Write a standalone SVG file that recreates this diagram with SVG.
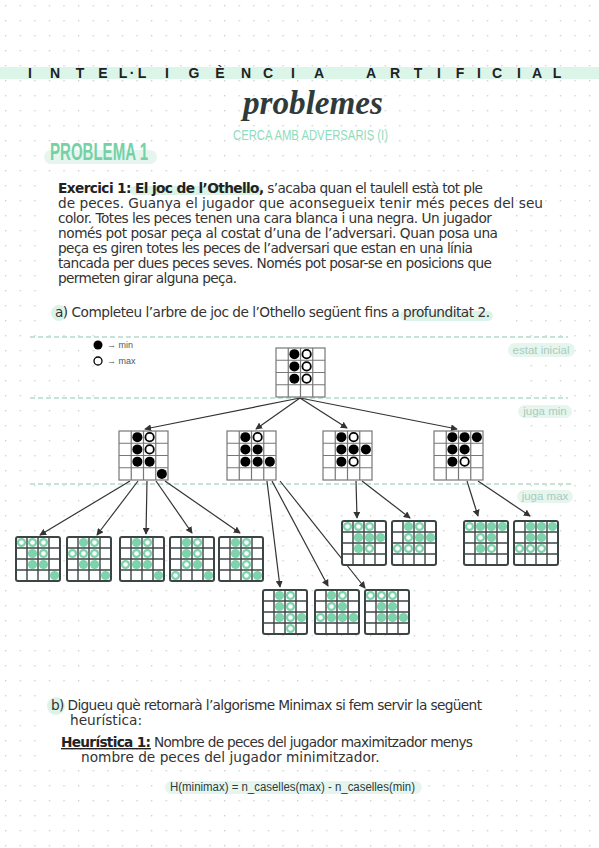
<svg xmlns="http://www.w3.org/2000/svg" xmlns:xlink="http://www.w3.org/1999/xlink" width="599" height="848" viewBox="0 0 599 848">
<style>
.body{font-family:"DejaVu Sans",sans-serif;font-size:13.7px;fill:#333}
.b{font-weight:bold;fill:#222}
.hdr{font-family:"Liberation Sans",sans-serif;font-weight:bold;font-size:14px;fill:#222}
.lbl{font-family:"Liberation Sans",sans-serif;font-size:11.5px;fill:#a9cbbd}
.pill{fill:#e6f6ef}
.hl{fill:#dcf4e8}
.dash{stroke:#b5dacb;stroke-width:1.5;stroke-dasharray:5 3;fill:none}
.con{stroke:#333;stroke-width:1.2;fill:none;marker-end:url(#ah)}
</style>
<defs>
<pattern id="dots" width="14.6" height="15" patternUnits="userSpaceOnUse" x="5" y="5">
<circle cx="0.7" cy="0.7" r="0.7" fill="#c4c4c4"/>
</pattern>
<marker id="ah" viewBox="0 0 8 8" refX="7" refY="4" markerWidth="7" markerHeight="7" markerUnits="userSpaceOnUse" orient="auto">
<path d="M0,0 L8,4 L0,8 z" fill="#333"/>
</marker>
<g id="bg">
<rect x="0" y="0" width="49" height="49" fill="#fff" stroke="#777" stroke-width="1.2"/>
<path d="M12.25,0V49M24.5,0V49M36.75,0V49M0,12.25H49M0,24.5H49M0,36.75H49" stroke="#777" stroke-width="1.2"/>
</g>
<g id="lg">
<rect x="0" y="0" width="44" height="44" rx="2" fill="#fff" stroke="#3c4545" stroke-width="2"/>
<path d="M11,0V44M22,0V44M33,0V44M0,11H44M0,22H44M0,33H44" stroke="#3c4545" stroke-width="1.4"/>
</g>
<circle id="bk" r="5" fill="#000"/>
<circle id="wh" r="4.2" fill="#fff" stroke="#000" stroke-width="1.8"/>
<circle id="gm" r="4.6" fill="#7dd3ac"/>
<g id="gw"><circle r="4.6" fill="#7dd3ac"/><circle r="2.3" fill="#fff"/></g>
</defs>

<rect width="599" height="848" fill="#fff"/>
<rect width="599" height="848" fill="url(#dots)"/>
<!-- white areas -->
<rect x="48" y="172" width="468" height="120" fill="#fff"/>
<rect x="48" y="298" width="468" height="28" fill="#fff"/>
<rect x="100" y="335" width="430" height="172" fill="#fff"/>
<rect x="45" y="694" width="470" height="72" fill="#fff"/>

<!-- header -->
<g id="header">
<rect x="0" y="67" width="599" height="12" fill="#dcf5e9"/>
<text class="hdr" text-anchor="middle" x="30 55 80 103 123 132 142 167 194 220 246 268 293 319 371 395 418 439 460 479 497 519 537 557" y="78">INTEL·LIGÈNCIAARTIFICIAL</text>
<text x="313" y="114" text-anchor="middle" font-family="Liberation Serif, serif" font-style="italic" font-weight="bold" font-size="34" fill="#2f3b3b" textLength="140" lengthAdjust="spacingAndGlyphs">problemes</text>
<text x="233" y="140" font-family="Liberation Sans, sans-serif" font-size="15.5" fill="#8fdcbd" textLength="155" lengthAdjust="spacingAndGlyphs">CERCA AMB ADVERSARIS (I)</text>
<rect x="44" y="150" width="113" height="14" rx="7" class="pill"/>
<text x="50" y="160" font-family="Liberation Sans, sans-serif" font-weight="bold" font-size="23" fill="#74d1a6" textLength="98" lengthAdjust="spacingAndGlyphs">PROBLEMA 1</text>
</g>

<!-- statement -->
<g id="statement">
<rect x="130" y="186" width="132" height="9" rx="4.5" class="hl"/>
<text class="body" x="58" y="193" textLength="425"><tspan class="b">Exercici 1: El joc de l’Othello,</tspan> s’acaba quan el taulell està tot ple</text>
<text class="body" x="58" y="208" textLength="485">de peces. Guanya el jugador que aconsegueix tenir més peces del seu</text>
<text class="body" x="58" y="223" textLength="434">color. Totes les peces tenen una cara blanca i una negra. Un jugador</text>
<text class="body" x="58" y="238" textLength="440">només pot posar peça al costat d’una de l’adversari. Quan posa una</text>
<text class="body" x="58" y="253" textLength="415">peça es giren totes les peces de l’adversari que estan en una línia</text>
<text class="body" x="58" y="268" textLength="434">tancada per dues peces seves. Només pot posar-se en posicions que</text>
<text class="body" x="58" y="283" textLength="179">permeten girar alguna peça.</text>
<circle cx="59" cy="313" r="8" class="hl"/>
<rect x="400" y="311" width="93" height="10" rx="5" class="hl"/>
<text class="body" x="55" y="317" textLength="435">a) Completeu l’arbre de joc de l’Othello següent fins a profunditat 2.</text>
</g>

<!-- levels -->
<g id="levels">
<path class="dash" d="M30,337H568M30,398H568M30,484H573"/>
<rect x="508" y="343" width="67" height="14" rx="7" class="pill"/>
<text class="lbl" x="541" y="354" text-anchor="middle">estat inicial</text>
<rect x="518" y="405" width="54" height="13" rx="6.5" class="pill"/>
<text class="lbl" x="545" y="415" text-anchor="middle">juga min</text>
<rect x="517" y="490" width="56" height="13" rx="6.5" class="pill"/>
<text class="lbl" x="545" y="500" text-anchor="middle">juga max</text>
</g>

<!-- legend -->
<g id="legend" font-family="Liberation Sans, sans-serif" font-size="9" fill="#555">
<circle cx="98" cy="345" r="4.5" fill="#000"/>
<text x="107" y="348">→ min</text>
<circle cx="98" cy="361" r="4" fill="#fff" stroke="#000" stroke-width="1.3"/>
<text x="107" y="364">→ max</text>
</g>

<!-- connectors -->
<g id="connectors">
<path class="con" d="M300,398L145,429"/>
<path class="con" d="M300,398L256,429"/>
<path class="con" d="M300,398L347,428"/>
<path class="con" d="M300,398L457,429"/>
<path class="con" d="M130,481L40,535"/>
<path class="con" d="M138,481L97,535"/>
<path class="con" d="M147,481L146,534"/>
<path class="con" d="M156,481L192,533"/>
<path class="con" d="M165,481L240,533"/>
<path class="con" d="M267,481L280,587"/>
<path class="con" d="M272,481L328,586"/>
<path class="con" d="M280,481L365,588"/>
<path class="con" d="M356,481L357,518"/>
<path class="con" d="M362,481L410,518"/>
<path class="con" d="M467,481L478,516"/>
<path class="con" d="M478,481L530,516"/>
</g>

<!-- root -->
<g id="n0" transform="translate(276,348)">
<use href="#bg"/>
<use href="#bk" x="18.375" y="6.125"/><use href="#wh" x="30.625" y="6.125"/>
<use href="#bk" x="18.375" y="18.375"/><use href="#wh" x="30.625" y="18.375"/>
<use href="#bk" x="18.375" y="30.625"/><use href="#wh" x="30.625" y="30.625"/>
</g>

<!-- level 1 -->
<g id="n1a" transform="translate(119,431)">
<use href="#bg"/>
<use href="#bk" x="18.375" y="6.125"/><use href="#wh" x="30.625" y="6.125"/>
<use href="#bk" x="18.375" y="18.375"/><use href="#wh" x="30.625" y="18.375"/>
<use href="#bk" x="18.375" y="30.625"/><use href="#bk" x="30.625" y="30.625"/>
<use href="#bk" x="42.875" y="42.875"/>
</g>
<g id="n1b" transform="translate(227,431)">
<use href="#bg"/>
<use href="#bk" x="18.375" y="6.125"/><use href="#wh" x="30.625" y="6.125"/>
<use href="#bk" x="18.375" y="18.375"/><use href="#bk" x="30.625" y="18.375"/>
<use href="#bk" x="18.375" y="30.625"/><use href="#bk" x="30.625" y="30.625"/><use href="#bk" x="42.875" y="30.625"/>
</g>
<g id="n1c" transform="translate(323,431)">
<use href="#bg"/>
<use href="#bk" x="18.375" y="6.125"/><use href="#wh" x="30.625" y="6.125"/>
<use href="#bk" x="18.375" y="18.375"/><use href="#bk" x="30.625" y="18.375"/><use href="#bk" x="42.875" y="18.375"/>
<use href="#bk" x="18.375" y="30.625"/><use href="#wh" x="30.625" y="30.625"/>
</g>
<g id="n1d" transform="translate(434,431)">
<use href="#bg"/>
<use href="#bk" x="18.375" y="6.125"/><use href="#bk" x="30.625" y="6.125"/><use href="#bk" x="42.875" y="6.125"/>
<use href="#bk" x="18.375" y="18.375"/><use href="#bk" x="30.625" y="18.375"/>
<use href="#bk" x="18.375" y="30.625"/><use href="#wh" x="30.625" y="30.625"/>
</g>

<!-- level 2 leaves from A -->
<g id="l1" transform="translate(16,537)">
<use href="#lg"/>
<use href="#gw" x="5.5" y="5.5"/><use href="#gw" x="16.5" y="5.5"/><use href="#gw" x="27.5" y="5.5"/>
<use href="#gm" x="16.5" y="16.5"/><use href="#gw" x="27.5" y="16.5"/>
<use href="#gm" x="16.5" y="27.5"/><use href="#gm" x="27.5" y="27.5"/>
<use href="#gm" x="38.5" y="38.5"/>
</g>
<g id="l2" transform="translate(67,537)">
<use href="#lg"/>
<use href="#gm" x="16.5" y="5.5"/><use href="#gw" x="27.5" y="5.5"/>
<use href="#gw" x="5.5" y="16.5"/><use href="#gw" x="16.5" y="16.5"/><use href="#gw" x="27.5" y="16.5"/>
<use href="#gm" x="16.5" y="27.5"/><use href="#gm" x="27.5" y="27.5"/>
<use href="#gm" x="38.5" y="38.5"/>
</g>
<g id="l3" transform="translate(120,537)">
<use href="#lg"/>
<use href="#gm" x="16.5" y="5.5"/><use href="#gw" x="27.5" y="5.5"/>
<use href="#gw" x="16.5" y="16.5"/><use href="#gw" x="27.5" y="16.5"/>
<use href="#gw" x="5.5" y="27.5"/><use href="#gm" x="16.5" y="27.5"/><use href="#gm" x="27.5" y="27.5"/>
<use href="#gm" x="38.5" y="38.5"/>
</g>
<g id="l4" transform="translate(170,537)">
<use href="#lg"/>
<use href="#gm" x="16.5" y="5.5"/><use href="#gw" x="27.5" y="5.5"/>
<use href="#gm" x="16.5" y="16.5"/><use href="#gw" x="27.5" y="16.5"/>
<use href="#gw" x="16.5" y="27.5"/><use href="#gm" x="27.5" y="27.5"/>
<use href="#gw" x="5.5" y="38.5"/><use href="#gm" x="38.5" y="38.5"/>
</g>
<g id="l5" transform="translate(219,537)">
<use href="#lg"/>
<use href="#gm" x="16.5" y="5.5"/><use href="#gw" x="27.5" y="5.5"/>
<use href="#gm" x="16.5" y="16.5"/><use href="#gw" x="27.5" y="16.5"/>
<use href="#gm" x="16.5" y="27.5"/><use href="#gw" x="27.5" y="27.5"/>
<use href="#gw" x="27.5" y="38.5"/><use href="#gm" x="38.5" y="38.5"/>
</g>

<!-- leaves from B -->
<g id="m1" transform="translate(263,590)">
<use href="#lg"/>
<use href="#gm" x="16.5" y="5.5"/><use href="#gw" x="27.5" y="5.5"/>
<use href="#gm" x="16.5" y="16.5"/><use href="#gw" x="27.5" y="16.5"/>
<use href="#gm" x="16.5" y="27.5"/><use href="#gw" x="27.5" y="27.5"/><use href="#gm" x="38.5" y="27.5"/>
<use href="#gw" x="27.5" y="38.5"/>
</g>
<g id="m2" transform="translate(315,590)">
<use href="#lg"/>
<use href="#gm" x="16.5" y="5.5"/><use href="#gw" x="27.5" y="5.5"/>
<use href="#gw" x="16.5" y="16.5"/><use href="#gm" x="27.5" y="16.5"/>
<use href="#gw" x="5.5" y="27.5"/><use href="#gm" x="16.5" y="27.5"/><use href="#gm" x="27.5" y="27.5"/><use href="#gm" x="38.5" y="27.5"/>
</g>
<g id="m3" transform="translate(365,590)">
<use href="#lg"/>
<use href="#gw" x="5.5" y="5.5"/><use href="#gw" x="16.5" y="5.5"/><use href="#gw" x="27.5" y="5.5"/>
<use href="#gm" x="16.5" y="16.5"/><use href="#gm" x="27.5" y="16.5"/>
<use href="#gm" x="16.5" y="27.5"/><use href="#gm" x="27.5" y="27.5"/><use href="#gm" x="38.5" y="27.5"/>
</g>

<!-- leaves from C -->
<g id="c1" transform="translate(342,521)">
<use href="#lg"/>
<use href="#gw" x="5.5" y="5.5"/><use href="#gw" x="16.5" y="5.5"/><use href="#gw" x="27.5" y="5.5"/>
<use href="#gm" x="16.5" y="16.5"/><use href="#gm" x="27.5" y="16.5"/><use href="#gm" x="38.5" y="16.5"/>
<use href="#gm" x="16.5" y="27.5"/><use href="#gw" x="27.5" y="27.5"/>
</g>
<g id="c2" transform="translate(392,521)">
<use href="#lg"/>
<use href="#gm" x="16.5" y="5.5"/><use href="#gw" x="27.5" y="5.5"/>
<use href="#gw" x="16.5" y="16.5"/><use href="#gm" x="27.5" y="16.5"/><use href="#gm" x="38.5" y="16.5"/>
<use href="#gw" x="5.5" y="27.5"/><use href="#gw" x="16.5" y="27.5"/><use href="#gw" x="27.5" y="27.5"/>
</g>

<!-- leaves from D -->
<g id="d1" transform="translate(464,521)">
<use href="#lg"/>
<use href="#gw" x="5.5" y="5.5"/><use href="#gm" x="16.5" y="5.5"/><use href="#gm" x="27.5" y="5.5"/><use href="#gm" x="38.5" y="5.5"/>
<use href="#gw" x="16.5" y="16.5"/><use href="#gm" x="27.5" y="16.5"/>
<use href="#gm" x="16.5" y="27.5"/><use href="#gw" x="27.5" y="27.5"/>
</g>
<g id="d2" transform="translate(514,521)">
<use href="#lg"/>
<use href="#gm" x="16.5" y="5.5"/><use href="#gm" x="27.5" y="5.5"/><use href="#gm" x="38.5" y="5.5"/>
<use href="#gm" x="16.5" y="16.5"/><use href="#gm" x="27.5" y="16.5"/>
<use href="#gw" x="5.5" y="27.5"/><use href="#gw" x="16.5" y="27.5"/><use href="#gw" x="27.5" y="27.5"/>
</g>

<!-- part b -->
<g id="partb">
<circle cx="56" cy="706" r="9" class="hl"/>
<text class="body" x="51" y="710" textLength="431">b) Digueu què retornarà l’algorisme Minimax si fem servir la següent</text>
<text class="body" x="70" y="725">heurística:</text>
<text class="body" x="61" y="747" textLength="412"><tspan class="b" text-decoration="underline">Heurística 1:</tspan> Nombre de peces del jugador maximitzador menys</text>
<text class="body" x="81" y="762">nombre de peces del jugador minimitzador.</text>
<rect x="165" y="781" width="257" height="13" rx="6.5" class="pill"/>
<text x="170" y="791" font-family="Liberation Sans, sans-serif" font-size="12.5" fill="#2f3b3b" textLength="245" lengthAdjust="spacingAndGlyphs">H(minimax) = n_caselles(max) - n_caselles(min)</text>
</g>
</svg>
